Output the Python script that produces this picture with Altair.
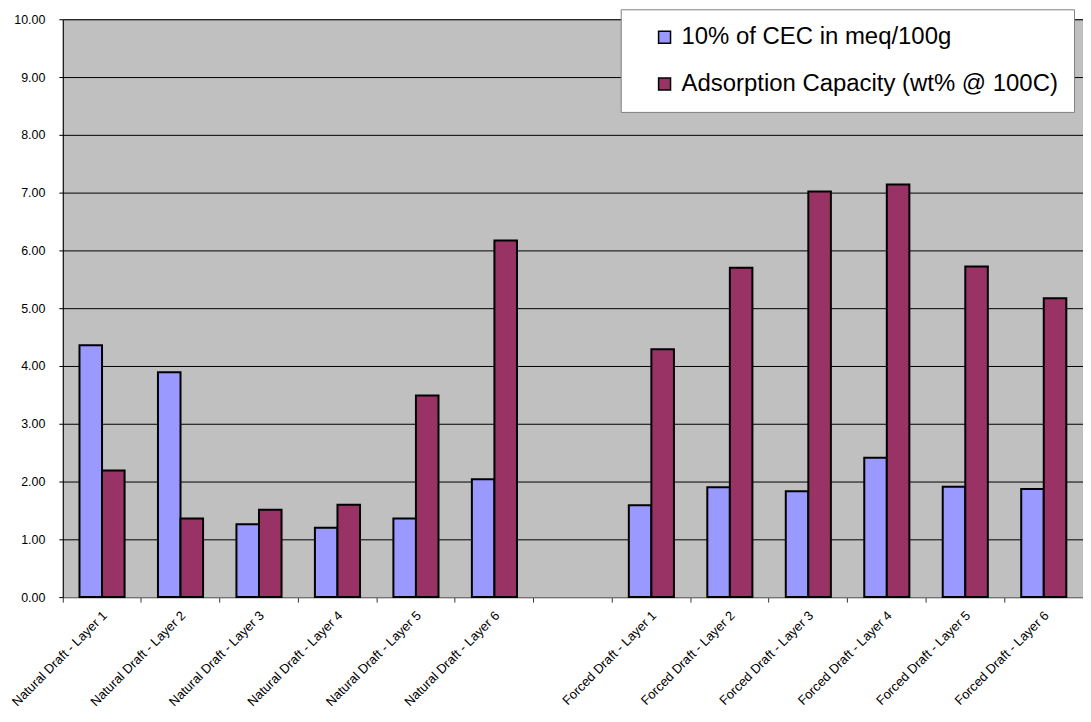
import altair as alt
import pandas as pd

categories = [
    "Natural Draft - Layer 1", "Natural Draft - Layer 2", "Natural Draft - Layer 3",
    "Natural Draft - Layer 4", "Natural Draft - Layer 5", "Natural Draft - Layer 6",
    " ",
    "Forced Draft - Layer 1", "Forced Draft - Layer 2", "Forced Draft - Layer 3",
    "Forced Draft - Layer 4", "Forced Draft - Layer 5", "Forced Draft - Layer 6",
]
series = ["10% of CEC in meq/100g", "Adsorption Capacity (wt% @ 100C)"]
cec = [4.36, 3.89, 1.26, 1.20, 1.36, 2.04, None, 1.59, 1.90, 1.83, 2.41, 1.91, 1.87]
adsorption = [2.19, 1.36, 1.51, 1.60, 3.49, 6.17, None, 4.29, 5.70, 7.02, 7.14, 5.72, 5.17]
colors = ["#9999FF", "#993366"]

rows = []
for c, a, b in zip(categories, cec, adsorption):
    if a is not None:
        rows.append({"category": c, "series": series[0], "value": a})
    if b is not None:
        rows.append({"category": c, "series": series[1], "value": b})
df = pd.DataFrame(rows)

W = 1024

chart = alt.Chart(df).mark_bar(stroke="black", strokeWidth=2).encode(
    x=alt.X("category:N", sort=categories,
            scale=alt.Scale(domain=categories, paddingInner=0, paddingOuter=0),
            axis=alt.Axis(title=None, labelAngle=-45, labelAlign="right", labelBaseline="middle",
                          bandPosition=0, labelOffset=3, labelPadding=11,
                          labelFontSize=13, labelFont="Liberation Sans", labelColor="black",
                          tickColor="#333333", tickSize=5, domainColor="#808080",
                          labelLimit=300, grid=False)),
    xOffset=alt.XOffset("series:N", sort=series,
                        scale=alt.Scale(domain=series, paddingInner=0, paddingOuter=0.74)),
    y=alt.Y("value:Q", scale=alt.Scale(domain=[0, 10], nice=False),
            axis=alt.Axis(title=None, values=list(range(0, 11)), format=".2f",
                          labelFontSize=12.5, labelFont="Liberation Sans", labelColor="black",
                          labelPadding=14, tickSize=4, tickColor="black", domainColor="black",
                          grid=True, gridColor="black", gridWidth=1)),
    color=alt.Color("series:N", sort=series,
                    scale=alt.Scale(domain=series, range=colors),
                    legend=alt.Legend(title=None, orient="none", legendX=560, legendY=-10,
                                      fillColor="white", strokeColor="#808080",
                                      padding=16, rowPadding=23, symbolOffset=16,
                                      labelFontSize=24, labelFont="Liberation Sans",
                                      labelColor="black", labelLimit=600, labelOffset=5,
                                      symbolType="square", symbolSize=144,
                                      symbolStrokeColor="black", symbolStrokeWidth=1.5)),
).properties(
    width=W, height=580,
    autosize="none",
    padding={"left": 55, "top": 10, "right": 0, "bottom": 112},
).configure_view(fill="#C0C0C0", stroke="#808080", strokeWidth=1)

chart.save("out.html", embed_options={"renderer": "svg", "actions": False})
